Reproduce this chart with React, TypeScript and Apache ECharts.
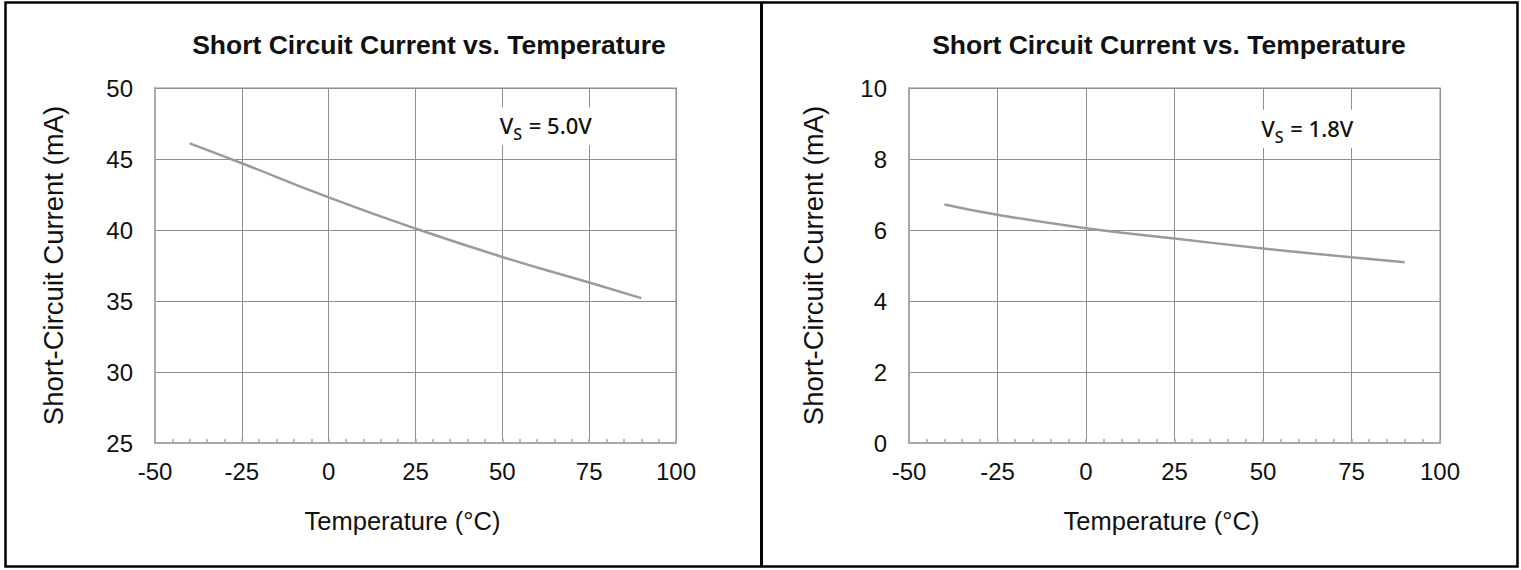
import React, { useEffect, useRef } from "react";
import * as echarts from "echarts";

const temps = [-40, -25, 0, 25, 50, 75, 90];
const current5V = [46.1, 44.7, 42.3, 40.1, 38.1, 36.3, 35.2];
const current18V = [6.72, 6.43, 6.05, 5.76, 5.48, 5.23, 5.09];
const titleText = "Short Circuit Current vs. Temperature";
const xName = "Temperature (°C)";
const yName = "Short-Circuit Current (mA)";
const label5V = ["V", "S", " = 5.0V"];
const label18V = ["V", "S", " = 1.8V"];

const ARIAL = "'Liberation Sans', Arial, sans-serif";
const GRID = "#8f8f8f";
const AXIS = "#a9a9a9";
const LINE = "#9b9b9b";

function xAxisCfg(gridIndex: number) {
  return {
    type: "value",
    gridIndex,
    min: -50,
    max: 100,
    interval: 25,
    name: xName,
    nameLocation: "middle",
    nameGap: 65,
    nameTextStyle: { fontFamily: ARIAL, fontSize: 25.5, color: "#111", padding: [0, 26, 0, 0] },
    axisLine: { show: true, onZero: false, lineStyle: { color: AXIS, width: 2 } },
    axisTick: { show: true, inside: true, length: 4, lineStyle: { color: AXIS, width: 1.5 } },
    minorTick: { show: true, splitNumber: 5, length: 4, lineStyle: { color: AXIS, width: 1.5 } },
    axisLabel: { fontFamily: ARIAL, fontSize: 24, color: "#111", margin: 16 },
    splitLine: { show: true, lineStyle: { color: GRID, width: 1 } },
  };
}

function yAxisCfg(gridIndex: number, min: number, max: number, interval: number, gap: number) {
  return {
    type: "value",
    gridIndex,
    min,
    max,
    interval,
    name: yName,
    nameLocation: "middle",
    nameGap: gap,
    nameTextStyle: { fontFamily: ARIAL, fontSize: 27.5, color: "#111" },
    axisLine: { show: true, onZero: false, lineStyle: { color: AXIS, width: 2 } },
    axisTick: { show: false },
    axisLabel: { fontFamily: ARIAL, fontSize: 24, color: "#111", margin: 22 },
    splitLine: { show: true, lineStyle: { color: GRID, width: 1 } },
  };
}

function vsLabel(parts: string[], coord: number[]) {
  return {
    symbol: "circle",
    symbolSize: 0,
    silent: true,
    data: [
      {
        coord,
        label: {
          show: true,
          position: "inside",
          formatter: `{a|${parts[0]}}{b|${parts[1]}}{a|${parts[2]}}`,
          backgroundColor: "#fff",
          padding: [7, 6, 5, 6],
          rich: {
            a: {
              fontFamily: "'Noto Sans', sans-serif",
              fontSize: 22,
              fontWeight: 500,
              color: "#111",
              lineHeight: 26,
              verticalAlign: "top",
            },
            b: {
              fontFamily: "'Noto Sans', sans-serif",
              fontSize: 16,
              fontWeight: 500,
              color: "#111",
              lineHeight: 16,
              verticalAlign: "top",
              padding: [12, 1, 0, 0],
            },
          },
        },
      },
    ],
  };
}

export default function App() {
  const ref = useRef<HTMLDivElement>(null);
  useEffect(() => {
    if (!ref.current) return;
    const chart = echarts.init(ref.current, null, { renderer: "svg" });
    const d5 = temps.map((t, i) => [t, current5V[i]]);
    const d18 = temps.map((t, i) => [t, current18V[i]]);
    const titleStyle = { fontFamily: ARIAL, fontSize: 26.5, fontWeight: "bold", color: "#111" };
    chart.setOption({
      animation: false,
      backgroundColor: "#fff",
      title: [
        { text: titleText, left: 429, top: 31, padding: 0, textAlign: "center", textStyle: titleStyle },
        { text: titleText, left: 1169, top: 31, padding: 0, textAlign: "center", textStyle: titleStyle },
      ],
      grid: [
        { left: 155, top: 88, width: 521, height: 355, show: true, borderColor: "#b5b5b5", borderWidth: 1.5, containLabel: false },
        { left: 909, top: 88, width: 531, height: 355, show: true, borderColor: "#b5b5b5", borderWidth: 1.5, containLabel: false },
      ],
      xAxis: [xAxisCfg(0), xAxisCfg(1)],
      yAxis: [yAxisCfg(0, 25, 50, 5, 88), yAxisCfg(1, 0, 10, 2, 82)],
      series: [
        {
          type: "line",
          xAxisIndex: 0,
          yAxisIndex: 0,
          data: d5,
          smooth: true,
          showSymbol: false,
          lineStyle: { color: LINE, width: 2.5 },
          markPoint: vsLabel(label5V, [62.5, 47.3]),
        },
        {
          type: "line",
          xAxisIndex: 1,
          yAxisIndex: 1,
          data: d18,
          smooth: true,
          showSymbol: false,
          lineStyle: { color: LINE, width: 2.5 },
          markPoint: vsLabel(label18V, [62.5, 8.85]),
        },
      ],
      graphic: [
        {
          type: "rect",
          shape: { x: 5.5, y: 2.5, width: 1512, height: 564 },
          style: { fill: "none", stroke: "#000", lineWidth: 2.5 },
          silent: true,
        },
        {
          type: "line",
          shape: { x1: 761.5, y1: 2, x2: 761.5, y2: 567 },
          style: { stroke: "#000", lineWidth: 3 },
          silent: true,
        },
      ],
    });
    return () => chart.dispose();
  }, []);
  return (
    <div
      ref={ref}
      style={{ position: "absolute", left: 0, top: 0, width: 1521, height: 570, background: "#fff" }}
    />
  );
}
